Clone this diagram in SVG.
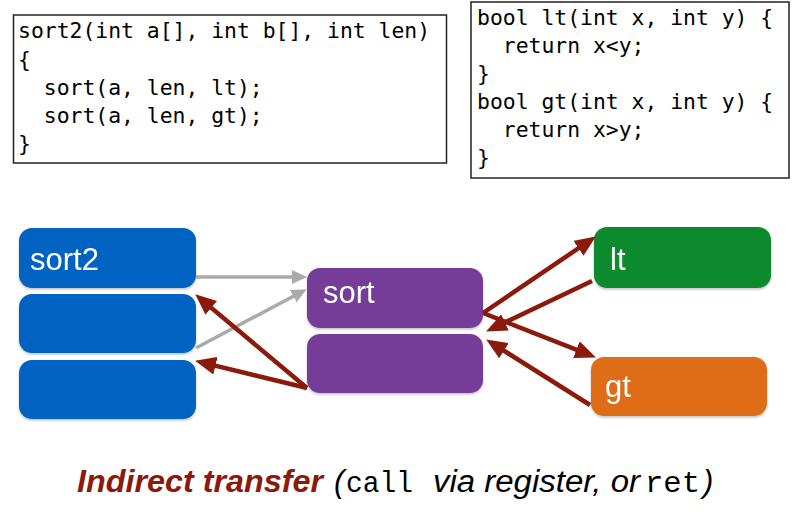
<svg xmlns="http://www.w3.org/2000/svg" width="802" height="528" viewBox="0 0 802 528">
<style>
.code{font-family:"DejaVu Sans Mono","Liberation Mono",monospace;font-size:21.4px;fill:#000}
.codebox{fill:#fff;stroke:#222;stroke-width:1.5}
.lbl{font-family:"Liberation Sans","Helvetica",Arial,sans-serif;font-size:31px;fill:#fff}
.red{stroke:#8B1A0A;stroke-width:4.5;fill:none;marker-end:url(#rh)}
.gray{stroke:#AAAAAA;stroke-width:3.5;fill:none;marker-end:url(#gh)}
</style>
<defs>
<marker id="rh" markerUnits="userSpaceOnUse" markerWidth="22" markerHeight="18" refX="12" refY="9" orient="auto">
<path d="M0,0 L21,9 L0,18 z" fill="#8B1A0A"/>
</marker>
<marker id="gh" markerUnits="userSpaceOnUse" markerWidth="16" markerHeight="14" refX="8" refY="7" orient="auto">
<path d="M0,0 L15,7 L0,14 z" fill="#AAAAAA"/>
</marker>
<filter id="sh" x="-5%" y="-5%" width="110%" height="120%">
<feDropShadow dx="0" dy="1.5" stdDeviation="1.2" flood-color="#000" flood-opacity="0.25"/>
</filter>
</defs>
<rect width="802" height="528" fill="#fff"/>

<g id="code-sort2">
<rect class="codebox" x="13.5" y="15" width="433" height="148"/>
<text class="code" x="18" y="38">sort2(int a[], int b[], int len)</text>
<text class="code" x="18" y="66.5">{</text>
<text class="code" x="18" y="95" xml:space="preserve">  sort(a, len, lt);</text>
<text class="code" x="18" y="123" xml:space="preserve">  sort(a, len, gt);</text>
<text class="code" x="18" y="151">}</text>
</g>

<g id="code-cmp">
<rect class="codebox" x="471" y="2" width="318" height="176"/>
<text class="code" x="477" y="25">bool lt(int x, int y) {</text>
<text class="code" x="477" y="53" xml:space="preserve">  return x&lt;y;</text>
<text class="code" x="477" y="81">}</text>
<text class="code" x="477" y="109">bool gt(int x, int y) {</text>
<text class="code" x="477" y="137" xml:space="preserve">  return x&gt;y;</text>
<text class="code" x="477" y="165">}</text>
</g>

<g id="node-sort2" filter="url(#sh)">
<rect x="19" y="228" width="177" height="60" rx="13" fill="#0563C1"/>
<rect x="19" y="294" width="177" height="59" rx="13" fill="#0563C1"/>
<rect x="19" y="360" width="177" height="59" rx="13" fill="#0563C1"/>
<text class="lbl" x="30" y="270">sort2</text>
</g>

<g id="node-sort" filter="url(#sh)">
<rect x="307" y="268" width="176" height="60" rx="13" fill="#753D98"/>
<rect x="307" y="334" width="176" height="59" rx="13" fill="#753D98"/>
<text class="lbl" x="323" y="303">sort</text>
</g>

<g id="node-lt" filter="url(#sh)">
<rect x="594" y="227" width="177" height="61" rx="13" fill="#118A2F"/>
<text class="lbl" x="610" y="270">lt</text>
</g>

<g id="node-gt" filter="url(#sh)">
<rect x="591" y="357" width="176" height="59" rx="13" fill="#DF6C12"/>
<text class="lbl" x="605" y="397">gt</text>
</g>

<g id="connectors">
<line class="gray" x1="196" y1="277" x2="300" y2="277"/>
<line class="gray" x1="196" y1="348" x2="300.4" y2="292.5"/>
<line class="red" x1="307" y1="388" x2="202.1" y2="300.1"/>
<line class="red" x1="307" y1="388" x2="203.8" y2="362.9"/>
<line class="red" x1="483" y1="313" x2="588.4" y2="241.5"/>
<line class="red" x1="592" y1="281" x2="494.2" y2="327.6"/>
<line class="red" x1="483" y1="313" x2="587.6" y2="354.1"/>
<line class="red" x1="590" y1="405" x2="493.8" y2="344.3"/>
</g>

<g id="caption">
<text x="77" y="492" font-family="Liberation Sans,Arial,sans-serif" font-size="32" font-weight="bold" font-style="italic" fill="#8B1A0A" textLength="246" lengthAdjust="spacingAndGlyphs">Indirect transfer</text>
<text x="334" y="492" font-family="Liberation Sans,Arial,sans-serif" font-size="31" font-style="italic" fill="#000">(</text>
<text x="346" y="492" font-family="Liberation Mono,Courier New,monospace" font-size="29" fill="#000" textLength="67" lengthAdjust="spacingAndGlyphs">call</text>
<text x="433" y="492" font-family="Liberation Sans,Arial,sans-serif" font-size="31" font-style="italic" fill="#000" textLength="207" lengthAdjust="spacingAndGlyphs">via register, or</text>
<text x="645" y="492" font-family="Liberation Mono,Courier New,monospace" font-size="29" fill="#000" textLength="55" lengthAdjust="spacingAndGlyphs">ret</text>
<text x="703" y="492" font-family="Liberation Sans,Arial,sans-serif" font-size="31" font-style="italic" fill="#000">)</text>
</g>
</svg>
